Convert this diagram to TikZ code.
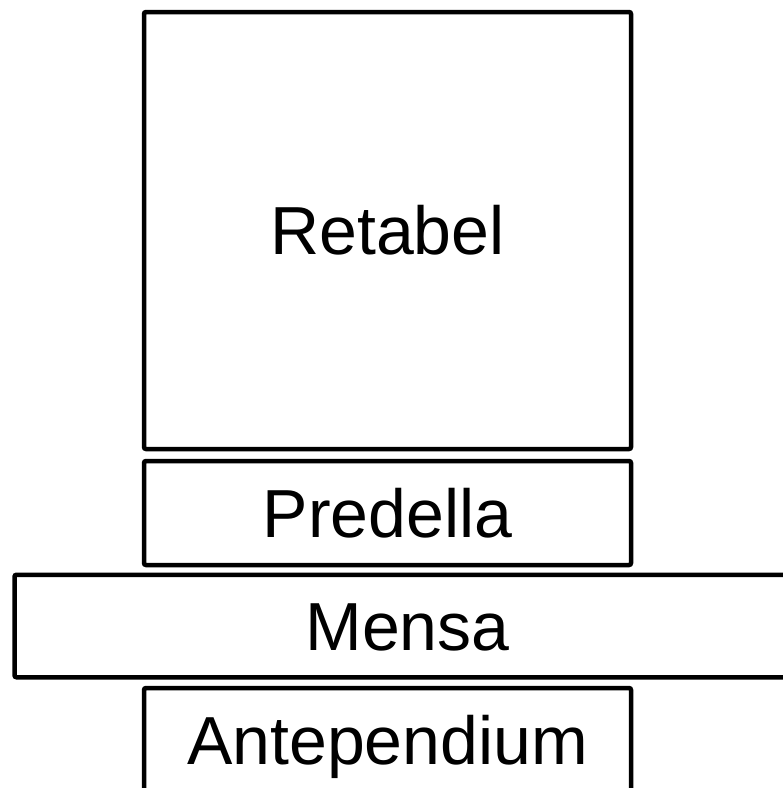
\documentclass[tikz,border=0pt]{standalone}
\usepackage{fontspec}
\setmainfont{Liberation Sans}
\begin{document}
\begin{tikzpicture}[x=1pt,y=-1pt,
  part/.style={draw=black, line width=4.5pt, rounded corners=2pt, fill=none,
    inner sep=0pt, text height=48.7pt, text depth=0pt,
    font=\fontsize{68}{80}\selectfont}]
\clip (0,0) rectangle (783,788);
\node[part, minimum width=487pt, minimum height=437pt] (retabel) at (387.5,230.5) {Retabel};
\node[part, minimum width=487pt, minimum height=104pt] (predella) at (387.5,513) {Predella};
\node[part, minimum width=786pt, minimum height=102.5pt] (mensa) at (407.5,626) {Mensa};
\node[part, minimum width=487pt, minimum height=104pt] (antependium) at (387.5,740) {Antependium};
\end{tikzpicture}
\end{document}
